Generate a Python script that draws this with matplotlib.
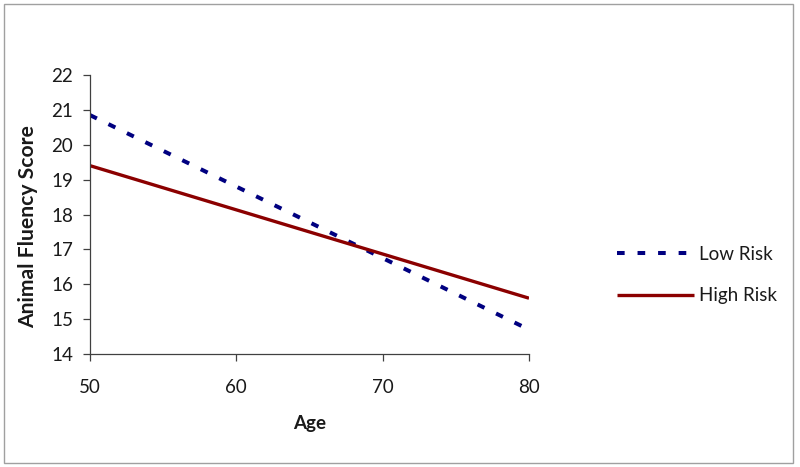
import matplotlib
matplotlib.use("Agg")
import matplotlib.pyplot as plt
from matplotlib.patches import Rectangle

age = [50, 80]
low_risk = [20.85, 14.7]
high_risk = [19.4, 15.6]
series_labels = ["Low Risk", "High Risk"]
x_ticks = [50, 60, 70, 80]
y_ticks = [14, 15, 16, 17, 18, 19, 20, 21, 22]

plt.rcParams['font.family'] = ['Lato', 'DejaVu Sans']
FS = 13.5

W, H = 800, 467
fig = plt.figure(figsize=(W / 100, H / 100), dpi=100)
fig.patch.set_facecolor('white')
fig.add_artist(Rectangle((4 / W, 4 / H), (793 - 4) / W, (463 - 4) / H,
                         transform=fig.transFigure, fill=False,
                         edgecolor='#a0a0a0', linewidth=1.0))

ax = fig.add_axes([90 / W, (H - 354) / H, (529 - 90) / W, (354 - 75) / H])
ax.plot(age, low_risk, color='#000080', linewidth=2.9,
        linestyle=(0, (1.9, 3.2)), dash_capstyle='butt', label=series_labels[0])
ax.plot(age, high_risk, color='#8b0000', linewidth=2.4,
        linestyle='-', solid_capstyle='butt', label=series_labels[1])

ax.set_xlim(50, 80)
ax.set_ylim(14, 22)
ax.set_xticks(x_ticks)
ax.set_yticks(y_ticks)
ax.spines['top'].set_visible(False)
ax.spines['right'].set_visible(False)
for s in ('left', 'bottom'):
    ax.spines[s].set_color('#404040')
    ax.spines[s].set_linewidth(0.9)
ax.tick_params(direction='out', length=5, width=0.9, color='#404040',
               labelsize=FS, labelcolor='#1a1a1a')
ax.tick_params(axis='x', pad=13)
ax.tick_params(axis='y', pad=7)
ax.set_xlabel('Age', fontsize=FS, fontweight='bold', labelpad=14, color='#1a1a1a')
ax.set_ylabel('Animal Fluency Score', fontsize=15.2, fontweight='bold',
              color='#1a1a1a', va='center')
ax.yaxis.set_label_coords(-0.141, 0.455)

leg = fig.legend(loc='center left', bbox_to_anchor=(600 / W, 1 - 275 / H),
                 frameon=False, fontsize=FS, handlelength=4.1,
                 handletextpad=0.3, labelspacing=1.3)
for t in leg.get_texts():
    t.set_color('#1a1a1a')

fig.savefig('out.png', dpi=100)
